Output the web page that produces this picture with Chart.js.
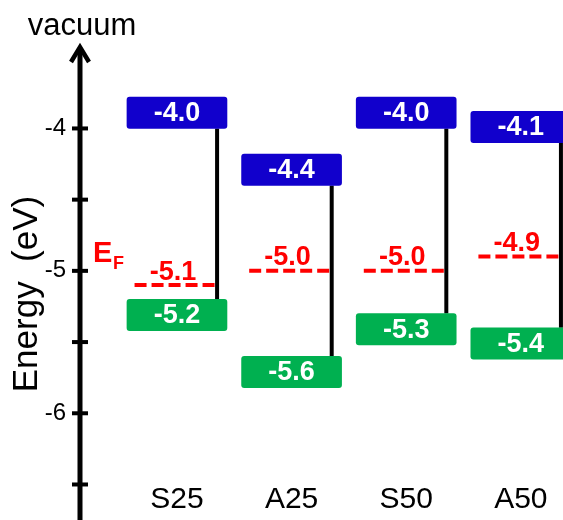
<!doctype html>
<html>

<head>
    <title>Energy levels</title>
    <script src="https://cdn.jsdelivr.net/npm/chart.js@4"></script>
    <style>
        body {
            margin: 0;
            padding: 0;
            background-color: #ffffff;
        }

        #niveis {
            display: block;
        }
    </style>
</head>

<body>
    <canvas id="niveis" width="563" height="520"></canvas>

    <script>
        // dados (eV)
        var amostras = ['S25', 'A25', 'S50', 'A50'];
        var lumo = [-4.0, -4.4, -4.0, -4.1];
        var homo = [-5.2, -5.6, -5.3, -5.4];
        var fermi = [-5.1, -5.0, -5.0, -4.9];
        var ticksMaiores = [-6, -5, -4];
        var ticksMenores = [-6.5, -5.5, -4.5];

        var FONTE = '"Liberation Sans", Arial, sans-serif';
        var ALTURA = 0.22;      // altura das caixas em eV
        var LIGACAO = 0.35;     // posicao da linha preta (fracao de categoria)
        var EF_INI = -0.37, EF_FIM = 0.33;

        var datasets = [];
        amostras.forEach(function (nome, i) {
            datasets.push({
                type: 'line',
                data: [{ x: i + LIGACAO, y: lumo[i] }, { x: i + LIGACAO, y: homo[i] }],
                borderColor: '#000000',
                borderWidth: 4,
                pointRadius: 0,
                order: 2
            });
            datasets.push({
                type: 'line',
                data: [{ x: i + EF_INI, y: fermi[i] }, { x: i + EF_FIM, y: fermi[i] }],
                borderColor: '#ff0000',
                borderWidth: 4,
                borderDash: [12, 5],
                borderCapStyle: 'butt',
                pointRadius: 0,
                order: 2
            });
        });
        datasets.push({
            type: 'bar',
            data: amostras.map(function (n, i) { return { x: i, y: [lumo[i], lumo[i] + ALTURA] }; }),
            backgroundColor: '#1100cc',
            barThickness: 100,
            grouped: false,
            borderRadius: 3,
            borderSkipped: false,
            order: 1
        });
        datasets.push({
            type: 'bar',
            data: amostras.map(function (n, i) { return { x: i, y: [homo[i] - ALTURA, homo[i]] }; }),
            backgroundColor: '#00b050',
            barThickness: 100,
            grouped: false,
            borderRadius: 3,
            borderSkipped: false,
            order: 1
        });

        var desenhos = {
            id: 'desenhos',
            afterDatasetsDraw: function (chart) {
                var ctx = chart.ctx;
                var x = chart.scales.x, y = chart.scales.y;
                var area = chart.chartArea;
                ctx.save();

                // eixo com seta
                ctx.strokeStyle = '#000';
                ctx.lineWidth = 5;
                ctx.beginPath();
                ctx.moveTo(area.left, 48);
                ctx.lineTo(area.left, chart.height);
                ctx.stroke();
                ctx.lineWidth = 4.5;
                ctx.lineJoin = 'miter';
                ctx.beginPath();
                ctx.moveTo(area.left - 9, 62);
                ctx.lineTo(area.left, 47);
                ctx.lineTo(area.left + 9, 62);
                ctx.stroke();

                ctx.lineWidth = 4;
                ticksMaiores.concat(ticksMenores).forEach(function (v) {
                    var py = y.getPixelForValue(v);
                    ctx.beginPath();
                    ctx.moveTo(area.left - 8, py);
                    ctx.lineTo(area.left + 8, py);
                    ctx.stroke();
                });

                // textos fixos
                ctx.fillStyle = '#000';
                ctx.textAlign = 'center';
                ctx.textBaseline = 'alphabetic';
                ctx.font = '31px ' + FONTE;
                ctx.fillText('vacuum', 82, 35);

                ctx.save();
                ctx.translate(37, 294);
                ctx.rotate(-Math.PI / 2);
                ctx.font = '35px ' + FONTE;
                ctx.fillText('Energy  (eV)', 0, 0);
                ctx.restore();

                ctx.fillStyle = '#ff0000';
                ctx.textAlign = 'left';
                ctx.font = 'bold 29px ' + FONTE;
                ctx.fillText('E', 93, 262);
                ctx.font = 'bold 18px ' + FONTE;
                ctx.fillText('F', 113, 269);

                // categorias
                ctx.fillStyle = '#000';
                ctx.textAlign = 'center';
                ctx.textBaseline = 'middle';
                ctx.font = '30px ' + FONTE;
                amostras.forEach(function (nome, i) {
                    ctx.fillText(nome, x.getPixelForValue(i), 500);
                });

                // rotulos das caixas
                ctx.font = 'bold 27px ' + FONTE;
                ctx.fillStyle = '#ffffff';
                var nBar = chart.data.datasets.length;
                chart.getDatasetMeta(nBar - 2).data.forEach(function (el, i) {
                    ctx.fillText(lumo[i].toFixed(1), el.x, (el.y + el.base) / 2 + 1);
                });
                chart.getDatasetMeta(nBar - 1).data.forEach(function (el, i) {
                    ctx.fillText(homo[i].toFixed(1), el.x, (el.y + el.base) / 2 + 1);
                });

                // rotulos do nivel de Fermi
                ctx.fillStyle = '#ff0000';
                fermi.forEach(function (v, i) {
                    ctx.fillText(v.toFixed(1), x.getPixelForValue(i) - 4, y.getPixelForValue(v) - 13);
                });

                ctx.restore();
            }
        };

        var grafico = new Chart(document.getElementById('niveis').getContext('2d'), {
            type: 'bar',
            data: { datasets: datasets },
            plugins: [desenhos],
            options: {
                responsive: false,
                animation: false,
                devicePixelRatio: 1,
                layout: { autoPadding: false, padding: { top: 43, left: 0, right: 0, bottom: 0 } },
                plugins: {
                    legend: { display: false },
                    tooltip: { enabled: false }
                },
                scales: {
                    x: {
                        type: 'linear',
                        display: false,
                        offset: false,
                        min: -0.846,
                        max: 3.368,
                        afterFit: function (scale) { scale.height = 0; }
                    },
                    y: {
                        type: 'linear',
                        min: -6.55,
                        max: -3.4,
                        grid: { display: false, drawTicks: false },
                        border: { display: false },
                        afterFit: function (scale) { scale.width = 80; },
                        afterBuildTicks: function (scale) {
                            scale.ticks = ticksMaiores.map(function (v) { return { value: v }; });
                        },
                        ticks: {
                            padding: 14,
                            color: '#000',
                            font: { family: FONTE, size: 24 },
                            callback: function (v) { return String(v); }
                        }
                    }
                }
            }
        });
    </script>
</body>

</html>
